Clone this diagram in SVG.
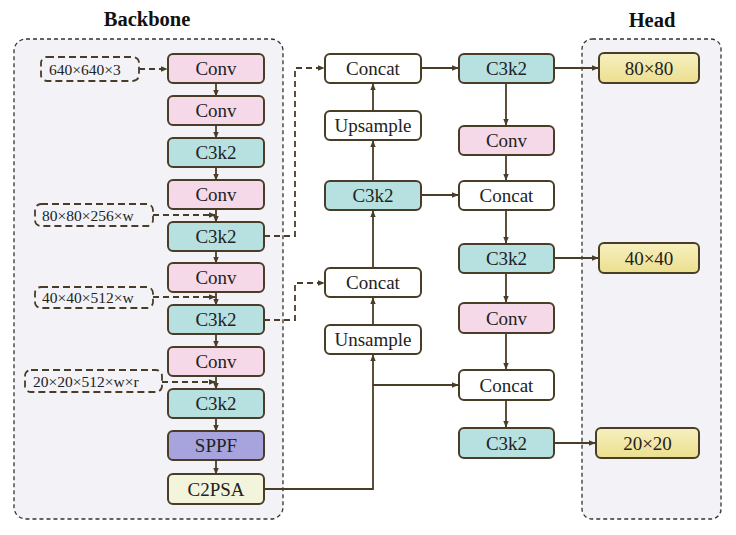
<svg xmlns="http://www.w3.org/2000/svg" width="736" height="535" viewBox="0 0 736 535">
<defs>
<linearGradient id="yg" x1="0" y1="0" x2="0" y2="1"><stop offset="0" stop-color="#f7f0c0"/><stop offset="1" stop-color="#ebdf8e"/></linearGradient>
<marker id="ah" viewBox="0 0 10 10" refX="9" refY="5" markerWidth="7" markerHeight="7" markerUnits="userSpaceOnUse" orient="auto"><path d="M0,1 L10,5 L0,9 z" fill="#4a3d28"/></marker>
</defs>
<style>
.cont{fill:#f2f2f7;stroke:#333;stroke-width:1.3;stroke-dasharray:4,3}
.n{stroke:#4a3d28;stroke-width:2}
.conv{fill:#f6d9e9}.c3{fill:#b7e0e1}.w{fill:#fff}.sppf{fill:#a6a3dd}.c2{fill:#f2f5dc}.hd{fill:url(#yg)}
text{font-family:'Liberation Serif','Times New Roman','DejaVu Serif',serif}
.t{font-size:19px;fill:#222;text-anchor:middle;dominant-baseline:central}
.ti{font-size:15.5px;fill:#222;dominant-baseline:central}
.title{font-size:20.5px;font-weight:bold;fill:#111;text-anchor:middle}
.ib{fill:none;stroke:#4a3d28;stroke-width:1.8;stroke-dasharray:7,4}
.e{fill:none;stroke:#4a3d28;stroke-width:1.8;marker-end:url(#ah)}
.d{fill:none;stroke:#4a3d28;stroke-width:1.8;stroke-dasharray:6,4;marker-end:url(#ah)}
</style>
<rect class="cont" x="14" y="39" width="269" height="480" rx="12"/>
<rect class="cont" x="582" y="39" width="139" height="480" rx="10"/>
<text class="title" x="147" y="26">Backbone</text>
<text class="title" x="652" y="27">Head</text>

<g id="connectors">
<path class="e" d="M216,83 V96"/>
<path class="e" d="M216,125 V138"/>
<path class="e" d="M216,167 V180"/>
<path class="e" d="M216,209 V222"/>
<path class="e" d="M216,251 V263"/>
<path class="e" d="M216,292 V305"/>
<path class="e" d="M216,334 V347"/>
<path class="e" d="M216,376 V389"/>
<path class="e" d="M216,418 V431"/>
<path class="e" d="M216,460 V474"/>
<path class="d" d="M139,69 H167"/>
<path class="d" d="M153,215 H215"/>
<path class="d" d="M153,297 H215"/>
<path class="d" d="M162,382 H215"/>
<path class="d" d="M264,236 H295 V68 H324"/>
<path class="d" d="M264,320 H295 V283 H324"/>
<path class="e" d="M264,489 H373 V355"/>
<path class="e" d="M373,385 H458"/>
<path class="e" d="M373,325 V298"/>
<path class="e" d="M373,267 V211"/>
<path class="e" d="M373,181 V141"/>
<path class="e" d="M373,111 V84"/>
<path class="e" d="M421,68 H458"/>
<path class="e" d="M421,195 H458"/>
<path class="e" d="M554,68 H598"/>
<path class="e" d="M506,83 V125"/>
<path class="e" d="M506,155 V180"/>
<path class="e" d="M506,210 V243"/>
<path class="e" d="M506,273 V302"/>
<path class="e" d="M506,333 V369"/>
<path class="e" d="M506,400 V427"/>
<path class="e" d="M554,258 H598"/>
<path class="e" d="M554,443 H595"/>
</g>

<g id="in1"><rect class="ib" x="41" y="57" width="98" height="24" rx="6"/><text class="ti" x="49" y="69">640×640×3</text></g>
<g id="in2"><rect class="ib" x="35" y="204" width="118" height="22" rx="6"/><text class="ti" x="42" y="215">80×80×256×w</text></g>
<g id="in3"><rect class="ib" x="35" y="287" width="118" height="21" rx="6"/><text class="ti" x="42" y="297.5">40×40×512×w</text></g>
<g id="in4"><rect class="ib" x="25" y="370" width="137" height="22" rx="6"/><text class="ti" x="33" y="381">20×20×512×w×r</text></g>

<g id="b1"><rect class="n conv" x="168" y="54" width="96" height="29" rx="5"/><text class="t" x="216" y="68.5">Conv</text></g>
<g id="b2"><rect class="n conv" x="168" y="96" width="96" height="29" rx="5"/><text class="t" x="216" y="110.5">Conv</text></g>
<g id="b3"><rect class="n c3" x="168" y="138" width="96" height="29" rx="5"/><text class="t" x="216" y="152.5">C3k2</text></g>
<g id="b4"><rect class="n conv" x="168" y="180" width="96" height="29" rx="5"/><text class="t" x="216" y="194.5">Conv</text></g>
<g id="b5"><rect class="n c3" x="168" y="222" width="96" height="29" rx="5"/><text class="t" x="216" y="236.5">C3k2</text></g>
<g id="b6"><rect class="n conv" x="168" y="263" width="96" height="29" rx="5"/><text class="t" x="216" y="277.5">Conv</text></g>
<g id="b7"><rect class="n c3" x="168" y="305" width="96" height="29" rx="5"/><text class="t" x="216" y="319.5">C3k2</text></g>
<g id="b8"><rect class="n conv" x="168" y="347" width="96" height="29" rx="5"/><text class="t" x="216" y="361.5">Conv</text></g>
<g id="b9"><rect class="n c3" x="168" y="389" width="96" height="29" rx="5"/><text class="t" x="216" y="403.5">C3k2</text></g>
<g id="b10"><rect class="n sppf" x="168" y="431" width="96" height="29" rx="5"/><text class="t" x="216" y="445.5">SPPF</text></g>
<g id="b11"><rect class="n c2" x="168" y="474" width="96" height="30" rx="5"/><text class="t" x="216" y="489">C2PSA</text></g>

<g id="m1"><rect class="n w" x="325" y="54" width="96" height="29" rx="5"/><text class="t" x="373" y="68.5">Concat</text></g>
<g id="m2"><rect class="n w" x="325" y="111" width="96" height="29" rx="5"/><text class="t" x="373" y="125.5">Upsample</text></g>
<g id="m3"><rect class="n c3" x="325" y="181" width="96" height="29" rx="5"/><text class="t" x="373" y="195.5">C3k2</text></g>
<g id="m4"><rect class="n w" x="325" y="268" width="96" height="29" rx="5"/><text class="t" x="373" y="282.5">Concat</text></g>
<g id="m5"><rect class="n w" x="325" y="325" width="96" height="29" rx="5"/><text class="t" x="373" y="339.5">Unsample</text></g>

<g id="r1"><rect class="n c3" x="459" y="54" width="95" height="29" rx="5"/><text class="t" x="506.5" y="68.5">C3k2</text></g>
<g id="r2"><rect class="n conv" x="459" y="126" width="95" height="29" rx="5"/><text class="t" x="506.5" y="140.5">Conv</text></g>
<g id="r3"><rect class="n w" x="459" y="181" width="95" height="29" rx="5"/><text class="t" x="506.5" y="195.5">Concat</text></g>
<g id="r4"><rect class="n c3" x="459" y="244" width="95" height="29" rx="5"/><text class="t" x="506.5" y="258.5">C3k2</text></g>
<g id="r5"><rect class="n conv" x="459" y="303" width="95" height="30" rx="5"/><text class="t" x="506.5" y="318">Conv</text></g>
<g id="r6"><rect class="n w" x="459" y="370" width="95" height="30" rx="5"/><text class="t" x="506.5" y="385">Concat</text></g>
<g id="r7"><rect class="n c3" x="459" y="428" width="95" height="30" rx="5"/><text class="t" x="506.5" y="443">C3k2</text></g>

<g id="h1"><rect class="n hd" x="599" y="53" width="100" height="30" rx="5"/><text class="t" x="649" y="68">80×80</text></g>
<g id="h2"><rect class="n hd" x="599" y="243" width="100" height="30" rx="5"/><text class="t" x="649" y="258">40×40</text></g>
<g id="h3"><rect class="n hd" x="596" y="428" width="103" height="30" rx="5"/><text class="t" x="647.5" y="443">20×20</text></g>
</svg>
